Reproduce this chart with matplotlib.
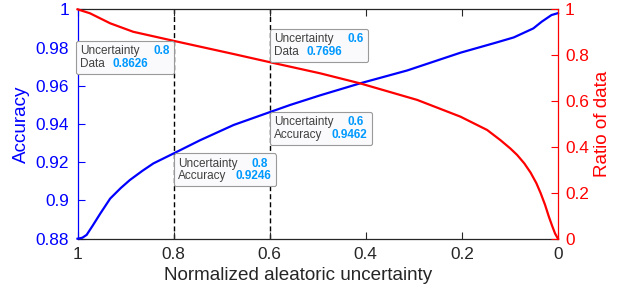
import matplotlib
matplotlib.use("Agg")
import matplotlib.pyplot as plt
from matplotlib.offsetbox import TextArea, HPacker, VPacker, AnnotationBbox

plt.rcParams["font.family"] = ["Liberation Sans", "DejaVu Sans"]

# accuracy curve (left axis)
unc_acc = [1.0, 0.99, 0.981, 0.968, 0.953, 0.932, 0.91, 0.891, 0.865, 0.842,
           0.8, 0.745, 0.675, 0.6, 0.557, 0.495, 0.4115, 0.314, 0.203, 0.13,
           0.092, 0.0514, 0.034, 0.0135, 0.0]
accuracy = [0.880, 0.8805, 0.882, 0.887, 0.893, 0.901, 0.9065, 0.9107, 0.9155,
            0.9194, 0.9246, 0.9315, 0.9395, 0.9462, 0.950, 0.955, 0.9613,
            0.968, 0.9773, 0.9825, 0.9853, 0.990, 0.9935, 0.997, 0.998]

# ratio of data curve (right axis)
unc_ratio = [1.0, 0.974, 0.932, 0.884, 0.8, 0.675, 0.6, 0.495, 0.4115, 0.293,
             0.203, 0.1475, 0.12, 0.099, 0.085, 0.07, 0.057, 0.045, 0.036,
             0.027, 0.019, 0.012, 0.006, 0.0]
ratio = [1.0, 0.9826, 0.939, 0.902, 0.8626, 0.805, 0.7696, 0.721, 0.677,
         0.605, 0.532, 0.474, 0.43, 0.393, 0.365, 0.328, 0.288, 0.242, 0.198,
         0.148, 0.096, 0.055, 0.022, 0.0]

x_ticks = [1, 0.8, 0.6, 0.4, 0.2, 0]
acc_ticks = [0.88, 0.9, 0.92, 0.94, 0.96, 0.98, 1]
ratio_ticks = [0, 0.2, 0.4, 0.6, 0.8, 1]

# data tips: (x, y, value name, value text, axis, alignment)
tips = [
    (0.8, 0.8626, "Data", "0.8626", "ratio", (1, 1)),
    (0.6, 0.7696, "Data", "0.7696", "ratio", (0, 0)),
    (0.6, 0.9462, "Accuracy", "0.9462", "acc", (0, 1)),
    (0.8, 0.9246, "Accuracy", "0.9246", "acc", (0, 1)),
]

dark = "#262626"
blue = "#0000FF"
red = "#FF0000"

fig = plt.figure(figsize=(6.25, 2.89), dpi=100)
ax = fig.add_axes([0.124, 0.174, 0.7688, 0.7938])
ax2 = ax.twinx()

ax.plot(unc_acc, accuracy, color=blue, lw=1.6, clip_on=False, zorder=3)
ax2.plot(unc_ratio, ratio, color=red, lw=1.6, clip_on=False, zorder=3)

for xv in [0.8, 0.6]:
    ax.axvline(xv, color="black", lw=1.0, dashes=(3.6, 2.2), zorder=1)

ax.set_xlim(1, 0)
ax.set_ylim(0.88, 1)
ax2.set_ylim(0, 1)
ax.set_xticks(x_ticks)
ax.set_xticklabels(["1", "0.8", "0.6", "0.4", "0.2", "0"])
ax.set_yticks(acc_ticks)
ax.set_yticklabels(["0.88", "0.9", "0.92", "0.94", "0.96", "0.98", "1"])
ax2.set_yticks(ratio_ticks)
ax2.set_yticklabels(["0", "0.2", "0.4", "0.6", "0.8", "1"])

ax.tick_params(axis="x", direction="in", length=5, width=0.8, colors=dark,
               labelsize=12.4, pad=6, top=True)
ax.tick_params(axis="y", direction="in", length=5, width=0.8, colors=blue,
               labelsize=12.4, pad=6)
ax2.tick_params(axis="y", direction="in", length=5, width=0.8, colors=red,
                labelsize=12.4, pad=5)

for a in (ax, ax2):
    for s in a.spines.values():
        s.set_linewidth(0.9)
ax.spines["left"].set_color(blue)
ax.spines["top"].set_color(dark)
ax.spines["bottom"].set_color(dark)
ax.spines["right"].set_visible(False)
ax2.spines["right"].set_color(red)
ax2.spines["left"].set_visible(False)
ax2.spines["top"].set_visible(False)
ax2.spines["bottom"].set_visible(False)

ax.set_xlabel("Normalized aleatoric uncertainty", fontsize=13.6, color=dark)
ax.xaxis.set_label_coords(0.459, -0.125)
ax.set_ylabel("Accuracy", fontsize=13.6, color=blue, labelpad=4)
ax2.set_ylabel("Ratio of data", fontsize=13.6, color=red, labelpad=4)

label_style = dict(fontsize=8.5, color="#404040")
value_style = dict(fontsize=8.5, color="#0099FF", fontweight="bold")

for xv, yv, name, val, which, align in tips:
    row1 = HPacker(children=[TextArea("Uncertainty", textprops=label_style),
                             TextArea(f"{xv:g}", textprops=value_style)],
                   sep=10, align="baseline")
    row2 = HPacker(children=[TextArea(name, textprops=label_style),
                             TextArea(val, textprops=value_style)],
                   sep=5.5 if name == "Data" else 7, align="baseline")
    box = VPacker(children=[row1, row2], sep=0.5, pad=3, align="left")
    target = ax2 if which == "ratio" else ax
    ab = AnnotationBbox(box, (xv, yv), xycoords="data", box_alignment=align,
                        frameon=True, pad=0,
                        bboxprops=dict(boxstyle="round,pad=0,rounding_size=0.15",
                                       facecolor="#FAFAFC", edgecolor="#9A9A9A",
                                       lw=0.8))
    ab.set_zorder(5)
    target.add_artist(ab)

fig.savefig("out.png", dpi=100)
